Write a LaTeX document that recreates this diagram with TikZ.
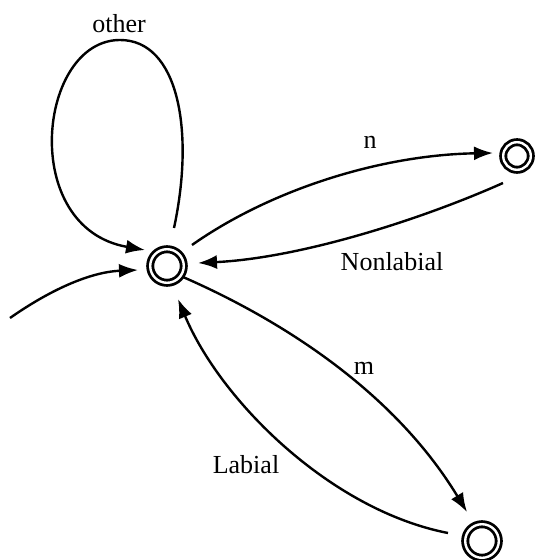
\documentclass[tikz,border=0pt]{standalone}
\usepackage{fontspec}
\setmainfont{Liberation Serif}
\usetikzlibrary{arrows.meta,calc}
\begin{document}
\begin{tikzpicture}[x=0.5pt,y=-0.5pt,
  acc/.style={circle,draw,line width=1.4pt,double,double distance=1.2pt,minimum size=16.8pt,inner sep=0pt},
  accsmall/.style={acc,minimum size=13.8pt},
  edge/.style={line width=1.2pt,-{Latex[length=9.5pt,width=7pt]}},
  lbl/.style={font=\fontsize{13}{15}\selectfont,inner sep=0pt}]
\useasboundingbox (0,0) rectangle (536,560);
\node[acc] (s) at (167,266) {};
\node[accsmall] (r) at (517,156) {};
\node[acc] (b) at (482,541) {};
\coordinate (i) at (10,318);
% self loop
\draw[edge] ($(s)+(7,-38)$) .. controls (195,130) and (178,40) .. (120,40)
  .. controls (38,40) and (18,228) .. ($(s)+(-22,-16)$);
\node[lbl] (lo) at (119,24) {other};
% initial
\draw[edge] (i) .. controls (50,290) and (90,272) .. ($(s)+(-29,4)$);
% n
\draw[edge] ($(s)+(25,-21)$) .. controls (270,190) and (380,155) .. ($(r)+(-24,-3)$);
\node[lbl] (ln) at (370,142) {n};
% Nonlabial
\draw[edge] ($(r)+(-14,27)$) .. controls (420,220) and (300,258) .. ($(s)+(31,-3)$);
\node[lbl] (lnl) at (392,262) {Nonlabial};
% m
\draw[edge] ($(s)+(16,11)$) .. controls (270,315) and (390,385) .. ($(b)+(-15,-29)$);
\node[lbl] (lm) at (364,368) {m};
% Labial
\draw[edge] ($(b)+(-34,-8)$) .. controls (330,510) and (220,400) .. ($(s)+(11,33)$);
\node[lbl] (ll) at (246,465) {Labial};
\end{tikzpicture}
\end{document}
